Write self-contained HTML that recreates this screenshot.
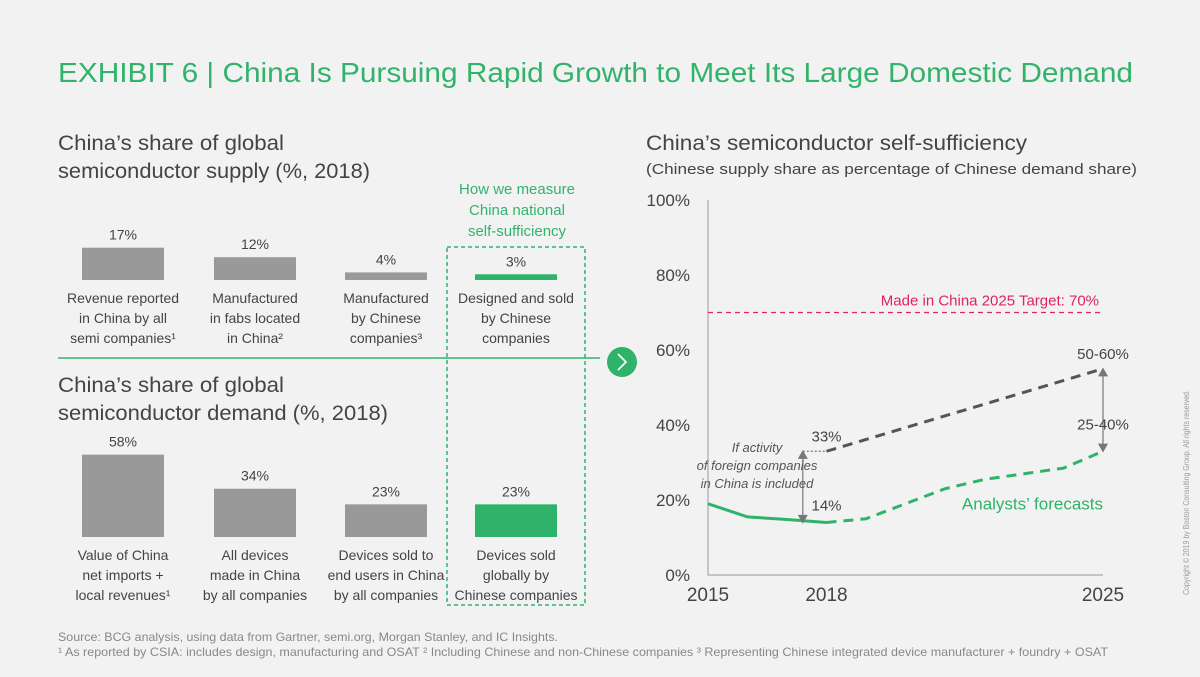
<!DOCTYPE html>
<html><head><meta charset="utf-8"><style>
body{margin:0;background:#f2f2f2;}
svg{display:block;font-family:"Liberation Sans",sans-serif;}
</style></head><body>
<svg id="s" width="1200" height="677" viewBox="0 0 1200 677">
<rect width="1200" height="677" fill="#f2f2f2"/>
<text x="58" y="82" font-size="28" fill="#32b36c" textLength="1075" lengthAdjust="spacingAndGlyphs">EXHIBIT 6 | China Is Pursuing Rapid Growth to Meet Its Large Domestic Demand</text>
<g fill="#444" font-size="21">
<text x="58" y="150" textLength="226" lengthAdjust="spacingAndGlyphs">China’s share of global</text>
<text x="58" y="178" textLength="312" lengthAdjust="spacingAndGlyphs">semiconductor supply (%, 2018)</text>
<text x="58" y="392" textLength="226" lengthAdjust="spacingAndGlyphs">China’s share of global</text>
<text x="58" y="420" textLength="330" lengthAdjust="spacingAndGlyphs">semiconductor demand (%, 2018)</text>
<text x="646" y="150" textLength="381" lengthAdjust="spacingAndGlyphs">China’s semiconductor self-sufficiency</text>
<text x="646" y="174" font-size="15" textLength="491" lengthAdjust="spacingAndGlyphs">(Chinese supply share as percentage of Chinese demand share)</text>
</g>
<g fill="#32b36c" font-size="15" text-anchor="middle">
<text x="517" y="194">How we measure</text>
<text x="517" y="215">China national</text>
<text x="517" y="236">self-sufficiency</text>
</g>
<rect x="447" y="247" width="138" height="358" fill="none" stroke="#32b36c" stroke-width="1.5" stroke-dasharray="4,3"/>
<line x1="58" y1="358" x2="600" y2="358" stroke="#32b36c" stroke-width="1.5"/>
<g><circle cx="622" cy="362" r="15" fill="#2fb36a"/><path d="M618 354 L626 362 L618 370" stroke="#fff" stroke-width="1.6" fill="none"/></g>
<g id="left"></g>
<g id="right"></g>
<text x="58" y="641" font-size="12" fill="#888" textLength="500" lengthAdjust="spacingAndGlyphs">Source: BCG analysis, using data from Gartner, semi.org, Morgan Stanley, and IC Insights.</text>
<text x="58" y="656" font-size="12" fill="#888" textLength="1050" lengthAdjust="spacingAndGlyphs">¹ As reported by CSIA: includes design, manufacturing and OSAT  ² Including Chinese and non-Chinese companies  ³ Representing Chinese integrated device manufacturer + foundry + OSAT</text>
<text transform="translate(1189,595) rotate(-90)" font-size="8" fill="#999" textLength="205" lengthAdjust="spacingAndGlyphs">Copyright © 2019 by Boston Consulting Group. All rights reserved.</text>
</svg>
<script>
const NS="http://www.w3.org/2000/svg";
const supplyValues=[17,12,4,3];
const supplyLabels=[["Revenue reported","in China by all","semi companies¹"],["Manufactured","in fabs located","in China²"],["Manufactured","by Chinese","companies³"],["Designed and sold","by Chinese","companies"]];
const demandValues=[58,34,23,23];
const demandLabels=[["Value of China","net imports +","local revenues¹"],["All devices","made in China","by all companies"],["Devices sold to","end users in China","by all companies"],["Devices sold","globally by","Chinese companies"]];
const years=[2015,2016,2017,2018];
const actual=[19,15.5,14.8,14];
const forecastYears=[2018,2019,2020,2021,2022,2023,2024,2025];
const forecast=[14,15,19,23,25.5,27,28.5,33];
const inclYears=[2018,2025];
const incl=[33,55];
const target=70;
const yTicks=[0,20,40,60,80,100];
const xTicks=[2015,2018,2025];

function mk(p,tag,a,txt){const e=document.createElementNS(NS,tag);for(const k in a)e.setAttribute(k,a[k]);if(txt!==undefined)e.textContent=txt;p.appendChild(e);return e;}
const L=document.getElementById('left');
const centers=[123,255,386,516];
function bars(vals,labels,base,scale,labY,name){
 vals.forEach((v,i)=>{
  const h=v*scale, green=i===3;
  const r=mk(L,'rect',{x:centers[i]-41,y:base-h,width:82,height:h,fill:green?'#2fb36a':'#999'});
  
  
  const t=mk(L,'text',{x:centers[i],y:base-h-8,'font-size':14,fill:'#444','text-anchor':'middle'},v+'%');
  
  
  labels[i].forEach((ln,j)=>{
   const lt=mk(L,'text',{x:centers[i],y:labY+j*20,'font-size':14,fill:'#444','text-anchor':'middle'},ln);
   
   
  });
 });
}
bars(supplyValues,supplyLabels,280,1.9,303,'supply');
bars(demandValues,demandLabels,537,1.42,560,'demand');

const R=document.getElementById('right');
const x0=708,x1=1103,y0=575,y100=200;
const X=y=>x0+(y-2015)/(2025-2015)*(x1-x0);
const Y=v=>y0-v/100*(y0-y100);
const ax=mk(R,'path',{d:`M${x0} ${Y(100)} V${y0} H${x1}`,stroke:'#aaa','stroke-width':1.2,fill:'none'});

yTicks.forEach(v=>{const t=mk(R,'text',{x:690,y:Y(v)+6,'font-size':17,fill:'#444','text-anchor':'end'},v+'%');
 });
xTicks.forEach(v=>{const t=mk(R,'text',{x:X(v),y:601,'font-size':19,fill:'#444','text-anchor':'middle'},v);
 });
const tl=mk(R,'line',{x1:x0,x2:x1,y1:Y(target),y2:Y(target),stroke:'#e0245e','stroke-width':1.3,'stroke-dasharray':'5,4'});

const tt=mk(R,'text',{x:x1-4,y:Y(target)-7,'font-size':15,fill:'#e0245e','text-anchor':'end'},'Made in China 2025 Target: '+target+'%');

const pts=(xs,vs)=>xs.map((x,i)=>X(x)+','+Y(vs[i])).join(' ');
const a=mk(R,'polyline',{points:pts(years,actual),fill:'none',stroke:'#2fb36a','stroke-width':3});

const f=mk(R,'polyline',{points:pts(forecastYears,forecast),fill:'none',stroke:'#2fb36a','stroke-width':3,'stroke-dasharray':'10,7'});

const g=mk(R,'polyline',{points:pts(inclYears,incl),fill:'none',stroke:'#555','stroke-width':3,'stroke-dasharray':'10,7'});

// annotations
const xa=X(2017.4);
const an=mk(R,'g',{stroke:'#777','stroke-width':1.2,fill:'#777'});

mk(an,'line',{x1:xa,x2:xa,y1:Y(incl[0])+4,y2:Y(actual[3])-3});
mk(an,'path',{d:`M${xa-4} ${Y(incl[0])+7} L${xa} ${Y(incl[0])} L${xa+4} ${Y(incl[0])+7}Z`});
mk(an,'path',{d:`M${xa-4} ${Y(actual[3])-7} L${xa} ${Y(actual[3])} L${xa+4} ${Y(actual[3])-7}Z`});
mk(an,'line',{x1:xa,x2:X(2018),y1:Y(incl[0]),y2:Y(incl[0]),'stroke-dasharray':'2,2'});
const xb=X(2025);
const an2=mk(R,'g',{stroke:'#777','stroke-width':1.2,fill:'#777'});

mk(an2,'line',{x1:xb,x2:xb,y1:Y(incl[1])+4,y2:Y(forecast[7])-4});
mk(an2,'path',{d:`M${xb-4} ${Y(incl[1])+7} L${xb} ${Y(incl[1])} L${xb+4} ${Y(incl[1])+7}Z`});
mk(an2,'path',{d:`M${xb-4} ${Y(forecast[7])-7} L${xb} ${Y(forecast[7])} L${xb+4} ${Y(forecast[7])-7}Z`});
const labs=[[X(2018),Y(incl[0])-10,'33%','#444','middle',15],[X(2018),Y(actual[3])-12,'14%','#444','middle',15],
 [1103,Y(incl[1])-10,'50-60%','#444','middle',15],[1103,Y(forecast[7])-22,'25-40%','#444','middle',15],
 [1103,Y(17.5),'Analysts\u2019 forecasts','#2fb36a','end',17]];
labs.forEach(l=>{const t=mk(R,'text',{x:l[0],y:l[1],'font-size':l[5],fill:l[3],'text-anchor':l[4]},l[2]);
 });
["If activity","of foreign companies","in China is included"].forEach((s,i)=>{
 const t=mk(R,'text',{x:757,y:452+i*18,'font-size':13,fill:'#555','font-style':'italic','text-anchor':'middle'},s);
 });
</script>
</body></html>
